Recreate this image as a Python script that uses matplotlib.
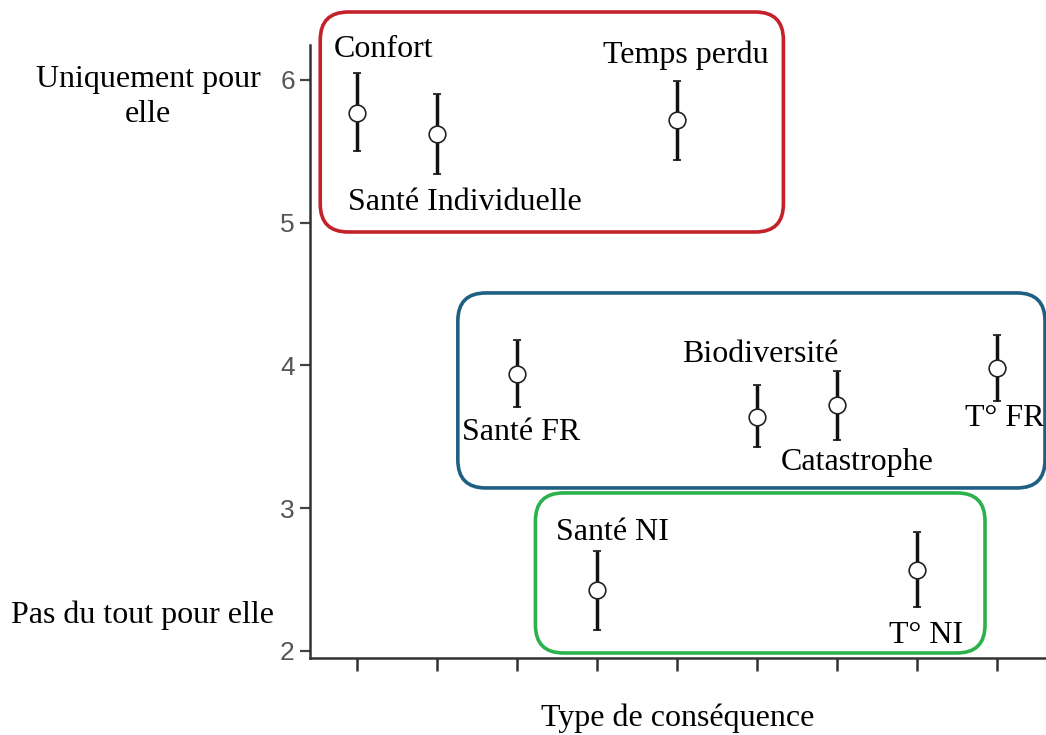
import matplotlib
matplotlib.use("Agg")
import matplotlib.pyplot as plt
from matplotlib.patches import FancyBboxPatch
from matplotlib.transforms import IdentityTransform

# Données
categories = ["Confort", "Santé Individuelle", "Santé FR", "Santé NI", "Temps perdu",
              "Biodiversité", "Catastrophe", "T° NI", "T° FR"]
means = [5.77, 5.62, 3.94, 2.43, 5.72, 3.64, 3.72, 2.57, 3.98]
err_low = [5.50, 5.34, 3.71, 2.15, 5.44, 3.43, 3.48, 2.31, 3.75]
err_high = [6.05, 5.90, 4.18, 2.70, 5.99, 3.86, 3.96, 2.83, 4.21]

# Position des étiquettes (x, y en unités des données)
label_x = [1.33, 2.35, 3.05, 4.19, 5.11, 6.04, 7.25, 8.11, 9.10]
label_y = [6.21, 5.14, 3.53, 2.83, 6.17, 4.08, 3.32, 2.11, 3.63]

# Groupes encadrés : (x0, x1, y0, y1, couleur)
groups = [
    (0.54, 6.33, 4.935, 6.476, "#c4222b"),
    (2.26, 9.60, 3.142, 4.508, "#1f5f82"),
    (3.23, 8.85, 1.986, 3.107, "#2bb24c"),
]

serif = ["Liberation Serif", "DejaVu Serif"]
x = list(range(1, len(categories) + 1))

fig = plt.figure(figsize=(10.46, 7.35), dpi=100)
ax = fig.add_axes([0.2964, 0.1048, 0.7036, 0.834])

yerr = [[m - l for m, l in zip(means, err_low)], [h - m for m, h in zip(means, err_high)]]
ax.errorbar(x, means, yerr=yerr, fmt="o", color="black", ecolor="#111111",
            elinewidth=2.5, capsize=3, capthick=2.5, markersize=12,
            markerfacecolor="white", markeredgecolor="#222222", markeredgewidth=1.2,
            zorder=3)

ax.set_xlim(0.4125, 9.6125)
ax.set_ylim(1.951, 6.245)
ax.set_xticks(x)
ax.set_xticklabels([])
ax.set_yticks([2, 3, 4, 5, 6])
ax.tick_params(axis="y", labelsize=19, labelcolor="#555555", length=7, width=1.6,
               color="#444444", pad=4)
ax.tick_params(axis="x", length=9, width=1.8, color="#333333")
for lab in ax.get_yticklabels():
    lab.set_family(["Liberation Sans", "DejaVu Sans"])

for s in ["top", "right"]:
    ax.spines[s].set_visible(False)
for s in ["left", "bottom"]:
    ax.spines[s].set_color("#333333")
    ax.spines[s].set_linewidth(1.8)

# Étiquettes des points
for name, lx, ly in zip(categories, label_x, label_y):
    ax.text(lx, ly, name, ha="center", va="center", fontsize=23, family=serif,
            zorder=4, clip_on=False)

# Libellés de l'axe y
ax.text(-1.61, 5.88, "Uniquement pour\nelle", ha="center", va="center", fontsize=23,
        family=serif, linespacing=1.25, clip_on=False)
ax.text(-1.68, 2.25, "Pas du tout pour elle", ha="center", va="center", fontsize=23,
        family=serif, clip_on=False)
ax.set_xlabel("Type de conséquence", fontsize=23, family=serif, labelpad=20)

# Cadres arrondis autour des groupes
fig.canvas.draw()
for x0, x1, y0, y1, col in groups:
    (px0, py0), (px1, py1) = ax.transData.transform([(x0, y0), (x1, y1)])
    r = 28
    box = FancyBboxPatch((px0 + r, py0 + r), (px1 - px0) - 2 * r, (py1 - py0) - 2 * r,
                         boxstyle=f"round,pad={r}", transform=IdentityTransform(),
                         fill=False, edgecolor=col, linewidth=2.6, zorder=5, clip_on=False)
    fig.add_artist(box)

fig.savefig("out.png", dpi=100)
